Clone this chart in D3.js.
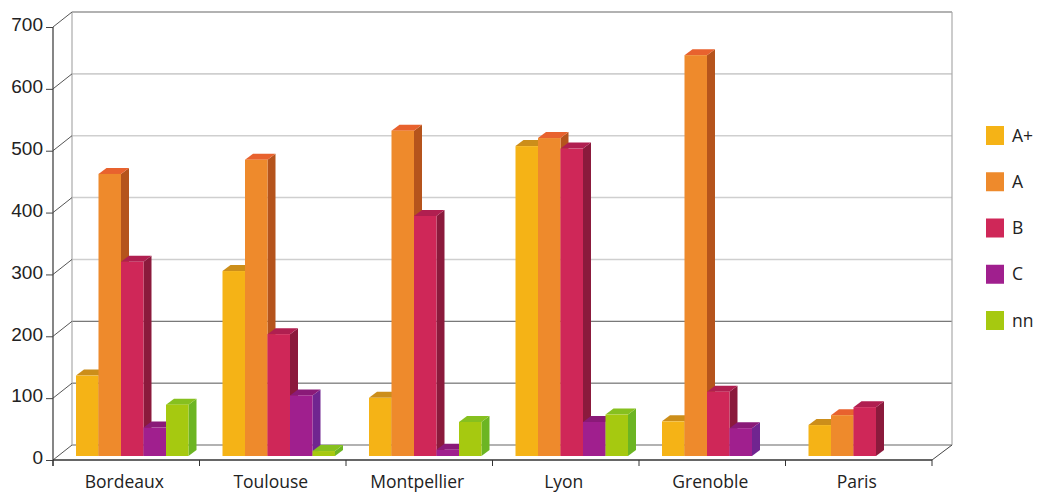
<!DOCTYPE html>
<html>
<head>
<meta charset="utf-8">
<script src="https://cdn.jsdelivr.net/npm/d3@7"></script>
<style>
html,body{margin:0;padding:0;background:#fff;}
svg{display:block;}
.num text{font-family:"Liberation Sans",Arial,sans-serif;font-size:19px;fill:#222;}
.cat text,.legend text{font-family:"Open Sans",sans-serif;font-size:17.5px;fill:#222;}
</style>
</head>
<body>
<svg id="chart" width="1038" height="495"></svg>
<script>
// Grades per city
const cities = ["Bordeaux","Toulouse","Montpellier","Lyon","Grenoble","Paris"];
const grades = ["A+","A","B","C","nn"];
const gradeAPlus = [130,299,94,501,56,50];
const gradeA     = [456,479,526,514,648,66];
const gradeB     = [314,197,388,497,104,79];
const gradeC     = [46,98,10,55,45,0];
const gradeNn    = [83,8,55,67,0,0];
const seriesValues = [gradeAPlus,gradeA,gradeB,gradeC,gradeNn];
const yTicks = [0,100,200,300,400,500,600,700];
const darkGridValues = [100,200];

// Front, top and side face colours for each grade
const frontColors = ["#f5b316","#ee8a2c","#cf2758","#a01f8e","#a6c910"];
const topColors   = ["#cc8e1a","#e8622e","#b01f50","#8a1a78","#86c01f"];
const sideColors  = ["#b8791a","#b5541c","#8b1a3c","#702590","#6cb523"];

// Plot frame and the oblique offset of the back wall
const left = 53, right = 932, floorY = 460, topY = 27;
const depthX = 19, depthY = 15;
const barBase = 4, barDepthX = 8, barDepthY = 6;

const svg = d3.select("#chart");
const y = d3.scaleLinear().domain([0,700]).range([floorY,topY]);
const x = d3.scaleBand().domain(cities).range([left,right]);
const gradeX = d3.scaleBand().domain(grades).range([0,112.5]);

// Back wall grid and its diagonals to the value axis
const grid = svg.append("g").attr("fill","none");
grid.selectAll("line.grid").data(yTicks).join("line")
  .attr("class","grid")
  .attr("x1",left+depthX).attr("x2",right+depthX+1)
  .attr("y1",d=>y(d)-depthY).attr("y2",d=>y(d)-depthY)
  .attr("stroke",d=>darkGridValues.includes(d)?"#555":(d===0||d===700?"#999":"#cfcfcf"))
  .attr("stroke-width",d=>darkGridValues.includes(d)?1:1.6);
grid.append("line")
  .attr("x1",left+depthX).attr("x2",left+depthX)
  .attr("y1",y(700)-depthY).attr("y2",y(0)-depthY).attr("stroke","#aaa").attr("stroke-width",1.2);
grid.append("line")
  .attr("x1",right+depthX+1).attr("x2",right+depthX+1)
  .attr("y1",y(700)-depthY).attr("y2",y(0)-depthY).attr("stroke","#aaa").attr("stroke-width",1.2);
grid.selectAll("line.diag").data(yTicks).join("line")
  .attr("class","diag")
  .attr("x1",left).attr("x2",left+depthX)
  .attr("y1",d=>y(d)).attr("y2",d=>y(d)-depthY)
  .attr("stroke","#555").attr("stroke-width",1);
grid.append("line")
  .attr("x1",right).attr("x2",right+depthX+1)
  .attr("y1",floorY).attr("y2",floorY-depthY)
  .attr("stroke","#444");

// Extruded bars, one group per city
const barLeft = c => x(c)+23;
cities.forEach((city,ci)=>{
  grades.forEach((g,si)=>{
    const v = seriesValues[si][ci];
    if(!v) return;
    const x0 = barLeft(city)+gradeX(g), x1 = x0+gradeX.bandwidth();
    const yt = y(v)-barBase, yb = y(0)-barBase;
    const poly = pts => svg.append("polygon").attr("points",pts.map(p=>p.join(",")).join(" "));
    poly([[x1,yt],[x1+barDepthX,yt-barDepthY],[x1+barDepthX,yb-barDepthY],[x1,yb]]).attr("fill",sideColors[si]);
    poly([[x0,yt],[x0+barDepthX,yt-barDepthY],[x1+barDepthX,yt-barDepthY],[x1,yt]]).attr("fill",topColors[si]);
    svg.append("rect").attr("x",x0).attr("y",yt).attr("width",x1-x0).attr("height",yb-yt).attr("fill",frontColors[si]);
  });
});

// Value axis
const yAxis = svg.append("g").attr("class","num").attr("transform",`translate(${left},0)`)
  .call(d3.axisLeft(y).tickValues(yTicks).tickFormat(d3.format("d")).tickSize(7).tickPadding(3));
yAxis.selectAll("line").attr("stroke","#444");
yAxis.selectAll("text").attr("dy","0.2em");
yAxis.select(".domain").attr("stroke","#444").attr("stroke-width",1.3).attr("d",`M0,${topY}V${floorY+6}`);

// Category axis: labels from the band scale, ticks on the band edges
const xAxis = svg.append("g").attr("class","cat").attr("transform",`translate(-2,${floorY})`)
  .call(d3.axisBottom(x).tickSize(0).tickPadding(16));
xAxis.select(".domain").remove();
svg.append("line").attr("x1",left).attr("x2",right).attr("y1",floorY).attr("y2",floorY)
  .attr("stroke","#333").attr("stroke-width",1.3);
svg.selectAll("line.xtick").data(d3.range(cities.length+1)).join("line")
  .attr("class","xtick")
  .attr("x1",i=>left+i*x.step()).attr("x2",i=>left+i*x.step())
  .attr("y1",floorY).attr("y2",floorY+6).attr("stroke","#333");

// Legend
const legend = svg.append("g").attr("class","legend");
const legendY = d3.scalePoint().domain(grades).range([135.5,320.5]);
const item = legend.selectAll("g").data(grades).join("g")
  .attr("transform",d=>`translate(986,${legendY(d)})`);
item.append("rect").attr("x",0).attr("y",-9.5).attr("width",18).attr("height",19)
  .attr("fill",(d,i)=>frontColors[i]);
item.append("text").attr("x",26).attr("dy","0.35em").text(d=>d);
</script>
</body>
</html>
